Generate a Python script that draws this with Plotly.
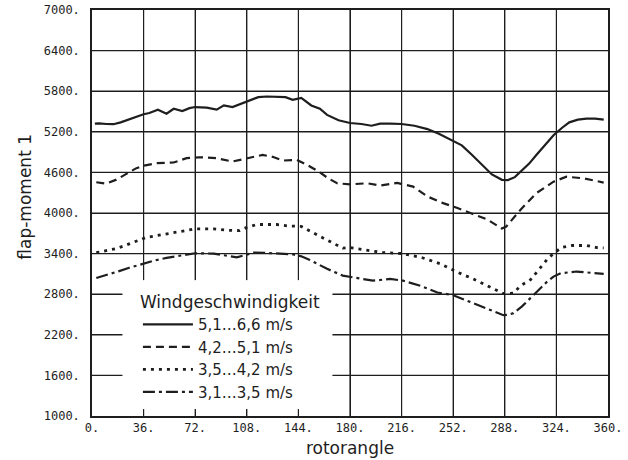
import plotly.graph_objects as go

# ---- data ----
x_ticks = [0, 36, 72, 108, 144, 180, 216, 252, 288, 324, 360]
x_ticklabels = ["0.", "36.", "72.", "108.", "144.", "180.", "216.", "252.", "288.", "324.", "360."]
y_ticks = [1000, 1600, 2200, 2800, 3400, 4000, 4600, 5200, 5800, 6400, 7000]
y_ticklabels = ["1000.", "1600.", "2200.", "2800.", "3400.", "4000.", "4600.", "5200.", "5800.", "6400.", "7000."]

s1_name = "5,1…6,6 m/s"
s1_angle = [2, 5, 10, 15, 20, 25, 30, 36, 40, 46, 52, 57, 63, 68, 72, 80, 87, 92, 98, 103, 109, 116, 122,
            129, 135, 140, 146, 153, 159, 164, 172, 180, 188, 195, 201, 208, 216, 225, 234, 242, 252, 258,
            265, 272, 279, 286, 290, 295, 299, 305, 310, 316, 322, 328, 333, 339, 345, 351, 357]
s1_value = [5320, 5325, 5315, 5312, 5340, 5375, 5420, 5460, 5478, 5527, 5468, 5541, 5507, 5550, 5566, 5556,
            5527, 5590, 5566, 5605, 5663, 5712, 5722, 5722, 5712, 5673, 5702, 5590, 5541, 5450, 5370, 5330,
            5315, 5290, 5320, 5320, 5315, 5290, 5240, 5170, 5060, 5000, 4860, 4710, 4570, 4490, 4485, 4530,
            4610, 4730, 4856, 5000, 5150, 5260, 5340, 5380, 5395, 5395, 5380]

s2_name = "4,2…5,1 m/s"
s2_angle = [3, 10, 17, 24, 31, 36, 45, 57, 66, 75, 87, 98, 108, 119, 126, 133, 143, 152, 159, 165, 171,
            180, 192, 201, 213, 224, 234, 245, 255, 266, 276, 286, 289, 299, 310, 322, 331, 343, 357]
s2_value = [4454, 4434, 4493, 4580, 4663, 4698, 4737, 4746, 4810, 4824, 4810, 4761, 4810, 4858, 4830, 4775,
            4785, 4688, 4600, 4510, 4439, 4424, 4439, 4405, 4444, 4390, 4244, 4146, 4073, 3985, 3902, 3770,
            3800, 4049, 4293, 4463, 4536, 4512, 4450]

s3_name = "3,5…4,2 m/s"
s3_angle = [3, 10, 17, 23, 29, 38, 45, 52, 62, 72, 85, 95, 103, 108, 115, 122, 129, 136, 146, 157, 168,
            175, 180, 187, 195, 203, 217, 231, 243, 255, 266, 278, 287, 294, 299, 306, 313, 318, 323, 328,
            335, 345, 352, 357]
s3_value = [3415, 3440, 3474, 3520, 3567, 3640, 3665, 3690, 3730, 3765, 3765, 3745, 3740, 3787, 3830, 3826,
            3830, 3811, 3801, 3678, 3554, 3480, 3489, 3464, 3445, 3415, 3400, 3335, 3250, 3125, 3025, 2900,
            2810, 2815, 2926, 3015, 3200, 3326, 3420, 3494, 3520, 3520, 3490, 3485]

s4_name = "3,1…3,5 m/s"
s4_angle = [3, 10, 17, 26, 36, 44, 52, 62, 72, 85, 94, 101, 107, 113, 121, 129, 140, 146, 152, 158, 164,
            175, 187, 196, 208, 217, 229, 241, 252, 264, 276, 287, 290, 294, 300, 306, 312, 317, 322, 327,
            338, 350, 357]
s4_value = [3040, 3080, 3128, 3190, 3257, 3300, 3336, 3375, 3405, 3400, 3370, 3345, 3380, 3415, 3410, 3400,
            3390, 3360, 3306, 3240, 3175, 3075, 3035, 3000, 3025, 3000, 2925, 2825, 2785, 2685, 2585, 2490,
            2495, 2520, 2620, 2750, 2870, 2975, 3060, 3110, 3135, 3110, 3100]

legend_title = "Windgeschwindigkeit"
x_title = "rotorangle"
y_title = "flap-moment 1"

INK = "#1e1e1e"

fig = go.Figure()
styles = [
    (s1_name, s1_angle, s1_value, "solid", 2.2),
    (s2_name, s2_angle, s2_value, "8px,5px", 2.2),
    (s3_name, s3_angle, s3_value, "3px,5px", 2.8),
    (s4_name, s4_angle, s4_value, "12px,4px,3px,4px", 2.2),
]
for name, xs, ys, dash, w in styles:
    fig.add_trace(go.Scatter(x=xs, y=ys, mode="lines", name=name,
                             line=dict(color=INK, width=w, dash=dash)))

# grid lines, placed from the tick arrays (inner ones; the frame draws the outer ones)
for v in x_ticks[1:-1]:
    fig.add_shape(type="line", xref="x", yref="paper", x0=v, x1=v, y0=0, y1=1,
                  line=dict(color=INK, width=1.2), layer="above")
for v in y_ticks[1:-1]:
    fig.add_shape(type="line", xref="paper", yref="y", x0=0, x1=1, y0=v, y1=v,
                  line=dict(color=INK, width=1.2), layer="above")

# white area behind the legend that hides the grid
fig.add_shape(type="rect", xref="x", yref="y", x0=21.6, x1=167.4, y0=1110, y1=3000,
              fillcolor="white", line=dict(color="white", width=1), layer="above")

tickfont = dict(family="DejaVu Sans Mono", size=12, color=INK)
common = dict(showgrid=True, gridcolor=INK, gridwidth=1.2, zeroline=False,
              showline=True, linecolor=INK, linewidth=1.5, mirror=True, ticks="",
              tickmode="array", automargin=False, tickfont=tickfont)
fig.update_layout(
    width=628, height=460,
    margin=dict(l=92, r=20, t=10, b=44),
    paper_bgcolor="white", plot_bgcolor="white",
    font=dict(family="DejaVu Sans", color=INK),
    xaxis=dict(range=[0, 360], tickvals=x_ticks, ticktext=x_ticklabels,
               title=dict(text=x_title, font=dict(family="DejaVu Sans", size=17, color=INK), standoff=8),
               **common),
    yaxis=dict(range=[1000, 7000], tickvals=y_ticks, ticktext=y_ticklabels, ticklabelstandoff=8,
               **common),
    legend=dict(x=0.089, y=0.32, xanchor="left", yanchor="top",
                bgcolor="rgba(0,0,0,0)", itemwidth=50,
                font=dict(family="DejaVu Sans", size=15, color=INK),
                title=dict(text=legend_title, font=dict(family="DejaVu Sans", size=17, color=INK))),
    annotations=[dict(text=y_title, textangle=-90, xref="paper", yref="paper",
                      x=-0.13, y=0.54, xanchor="center", yanchor="middle", showarrow=False,
                      font=dict(family="DejaVu Sans", size=17, color=INK))],
)

fig.write_html("out.html")
